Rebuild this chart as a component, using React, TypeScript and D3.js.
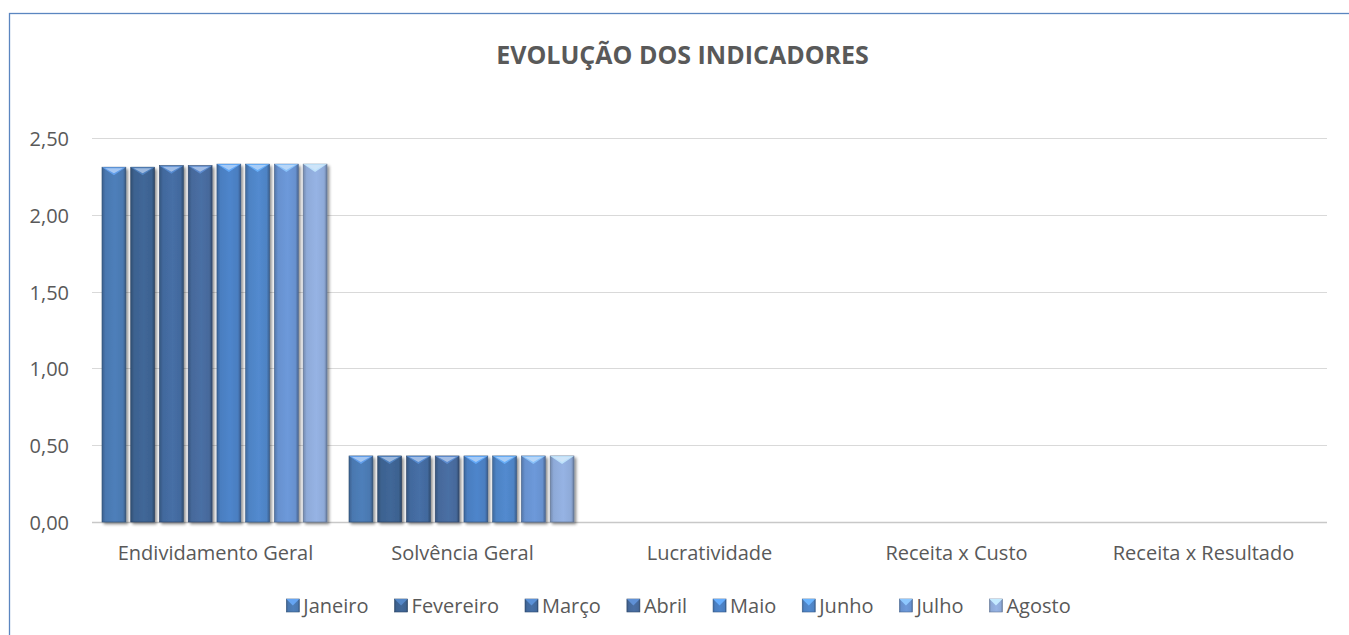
import React, { useEffect, useRef } from 'react';
import * as d3 from 'd3';

const categories = ['Endividamento Geral', 'Solvência Geral', 'Lucratividade', 'Receita x Custo', 'Receita x Resultado'];
const months = ['Janeiro', 'Fevereiro', 'Março', 'Abril', 'Maio', 'Junho', 'Julho', 'Agosto'];
// values per month, one entry per category (empty categories stay at 0)
const janeiro = [2.31, 0.43, 0, 0, 0];
const fevereiro = [2.31, 0.43, 0, 0, 0];
const marco = [2.32, 0.43, 0, 0, 0];
const abril = [2.32, 0.43, 0, 0, 0];
const maio = [2.33, 0.43, 0, 0, 0];
const junho = [2.33, 0.43, 0, 0, 0];
const julho = [2.33, 0.43, 0, 0, 0];
const agosto = [2.33, 0.43, 0, 0, 0];
const seriesValues = [janeiro, fevereiro, marco, abril, maio, junho, julho, agosto];
const yTicks = [0, 0.5, 1, 1.5, 2, 2.5];
const colors = ['#4a78b0', '#3d6290', '#42699d', '#46699b', '#4a7ec0', '#4e83c4', '#6791cf', '#8eaad8'];

const W = 1349;
const H = 635;
const FONT = '"Open Sans", "Noto Sans", sans-serif';

function App() {
  const ref = useRef<SVGSVGElement>(null);

  useEffect(() => {
    const svg = d3.select(ref.current);
    svg.selectAll('*').remove();

    const m = { left: 92, right: 22, top: 138, bottom: 113 };
    const x = d3.scaleBand().domain(categories).range([m.left, W - m.right]).paddingInner(0).paddingOuter(0);
    const xi = d3.scaleBand().domain(months).range([10, x.bandwidth() - 12]).paddingInner(0.17);
    const y = d3.scaleLinear().domain([0, 2.5]).range([H - m.bottom, m.top]);

    const defs = svg.append('defs');
    colors.forEach((c, i) => {
      const g = defs.append('linearGradient').attr('id', 'g' + i).attr('x1', 0).attr('x2', 1).attr('y1', 0).attr('y2', 0);
      const base = d3.color(c)!;
      g.append('stop').attr('offset', '0%').attr('stop-color', base.darker(0.6).formatHex());
      g.append('stop').attr('offset', '15%').attr('stop-color', base.formatHex());
      g.append('stop').attr('offset', '55%').attr('stop-color', base.brighter(0.15).formatHex());
      g.append('stop').attr('offset', '88%').attr('stop-color', base.formatHex());
      g.append('stop').attr('offset', '100%').attr('stop-color', base.darker(0.9).formatHex());
    });
    const f = defs.append('filter').attr('id', 'sh').attr('x', '-20%').attr('y', '-20%').attr('width', '160%').attr('height', '140%');
    f.append('feGaussianBlur').attr('in', 'SourceAlpha').attr('stdDeviation', 1.8);
    f.append('feOffset').attr('dx', 2).attr('dy', 1.5).attr('result', 'b');
    f.append('feComponentTransfer').append('feFuncA').attr('type', 'linear').attr('slope', 0.45);
    const mg = f.append('feMerge');
    mg.append('feMergeNode');
    mg.append('feMergeNode').attr('in', 'SourceGraphic');

    // frame
    svg.append('rect').attr('x', 9.5).attr('y', 13.5).attr('width', W).attr('height', H)
      .attr('fill', 'white').attr('stroke', '#5b86c0').attr('stroke-width', 1.3);

    svg.append('text').attr('x', W / 2 + 8).attr('y', 64).attr('text-anchor', 'middle')
      .style('font-family', FONT).style('font-weight', 'bold').style('font-size', '25px').attr('fill', '#595959')
      .text('EVOLUÇÃO DOS INDICADORES');

    // grid
    svg.append('g').selectAll('line').data(yTicks).enter().append('line')
      .attr('x1', m.left).attr('x2', W - m.right)
      .attr('y1', (d) => Math.round(y(d)) + 0.5).attr('y2', (d) => Math.round(y(d)) + 0.5)
      .attr('stroke', (d) => (d === 0 ? '#c8c8c8' : '#d9d9d9')).attr('stroke-width', (d) => (d === 0 ? 1.5 : 1));

    svg.append('g').selectAll('text').data(yTicks).enter().append('text')
      .attr('x', 69).attr('y', (d) => y(d) + 8).attr('text-anchor', 'end')
      .style('font-family', FONT).style('font-size', '20px').attr('fill', '#595959')
      .text((d) => d3.format('.2f')(d).replace('.', ','));

    svg.append('g').selectAll('text').data(categories).enter().append('text')
      .attr('x', (d) => x(d)! + x.bandwidth() / 2).attr('y', 560).attr('text-anchor', 'middle')
      .style('font-family', FONT).style('font-size', '20px').attr('fill', '#595959')
      .text((d) => d);

    // bars
    const bars: { cat: string; m: number; v: number }[] = [];
    seriesValues.forEach((vals, mi) => vals.forEach((v, ci) => { if (v > 0) bars.push({ cat: categories[ci], m: mi, v }); }));
    const bg = svg.append('g').selectAll('g').data(bars).enter().append('g').attr('filter', 'url(#sh)');
    bg.append('rect')
      .attr('x', (d) => x(d.cat)! + xi(months[d.m])!)
      .attr('y', (d) => y(d.v))
      .attr('width', xi.bandwidth())
      .attr('height', (d) => y(0) - y(d.v))
      .attr('fill', (d) => `url(#g${d.m})`)
      .attr('stroke', (d) => d3.color(colors[d.m])!.darker(1.2).formatHex()).attr('stroke-width', 0.6);
    // top bevel
    bg.append('path')
      .attr('d', (d) => {
        const x0 = x(d.cat)! + xi(months[d.m])!;
        const w = xi.bandwidth();
        const t = y(d.v);
        return `M${x0},${t} L${x0 + w},${t} L${x0 + w / 2},${t + 8} Z`;
      })
      .attr('fill', (d) => d3.color(colors[d.m])!.brighter(0.9).formatHex()).attr('opacity', 0.85);
    bg.append('path')
      .attr('d', (d) => {
        const x0 = x(d.cat)! + xi(months[d.m])!;
        const w = xi.bandwidth();
        const t = y(d.v);
        return `M${x0 + 3},${t + 1} L${x0 + w - 3},${t + 1} L${x0 + w / 2},${t + 6} Z`;
      })
      .attr('fill', '#dce8f8').attr('opacity', 0.55);

    // legend
    const lg = svg.append('g');
    const items = lg.selectAll('g').data(months).enter().append('g');
    items.append('rect').attr('y', -7).attr('width', 13).attr('height', 13).attr('fill', (d, i) => `url(#g${i})`)
      .attr('stroke', (d, i) => d3.color(colors[i])!.darker(1).formatHex()).attr('stroke-width', 0.6);
    items.append('path').attr('d', 'M0,-7 L13,-7 L6.5,-0.5 Z').attr('fill', (d, i) => d3.color(colors[i])!.brighter(0.9).formatHex());
    items.append('text').attr('x', 17).attr('y', 7)
      .style('font-family', FONT).style('font-size', '20px').attr('fill', '#595959').text((d) => d);
    let cx = 0;
    const offsets: number[] = [];
    items.each(function () {
      offsets.push(cx);
      const t = d3.select(this).select('text').node() as SVGTextElement;
      cx += 17 + t.getComputedTextLength() + 26;
    });
    const total = cx - 26;
    items.attr('transform', (d, i) => `translate(${offsets[i]},0)`);
    lg.attr('transform', `translate(${(W - total) / 2 + 4},606)`);
  }, []);

  return <svg ref={ref} width={W} height={H} style={{ display: 'block', position: 'absolute', left: 0, top: 0 }} />;
}

export default App;
